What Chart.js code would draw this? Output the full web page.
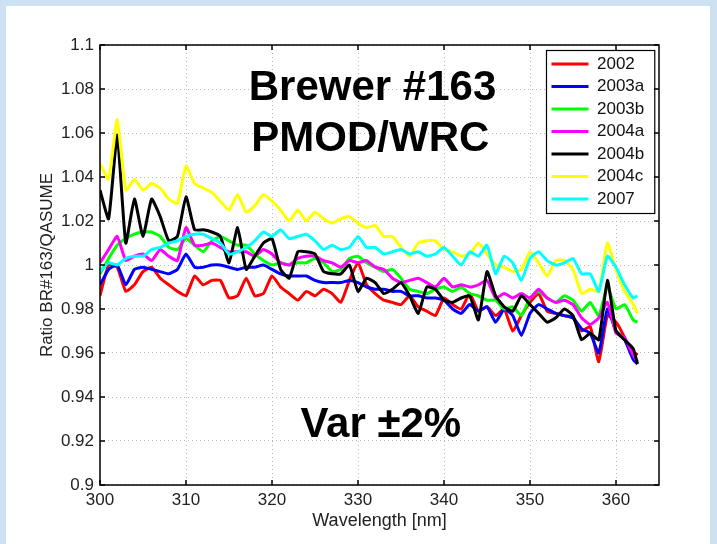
<!DOCTYPE html>
<html>
<head>
<meta charset="utf-8">
<script src="https://cdn.jsdelivr.net/npm/chart.js@4.4.0/dist/chart.umd.min.js"></script>
<style>
  html, body { margin: 0; padding: 0; }
  body { width: 717px; height: 544px; background: #cde1f5; position: relative; overflow: hidden; }
  #sheet { position: absolute; left: 6px; top: 6px; right: 7px; bottom: 0; background: #fff; }
  #brewerChart { position: absolute; left: 0; top: 0; }
</style>
</head>
<body>
<div id="sheet"></div>
<canvas id="brewerChart" width="717" height="544"></canvas>
<script>
// wavelength grid [nm]
const wavelengths = [300, 301, 302, 303, 304, 305, 306, 307, 308, 309,
  310, 311, 312, 313, 314, 315, 316, 317, 318, 319,
  320, 321, 322, 323, 324, 325, 326, 327, 328, 329,
  330, 331, 332, 333, 334, 335, 336, 337, 338, 339,
  340, 341, 342, 343, 344, 345, 346, 347, 348, 349,
  350, 351, 352, 353, 354, 355, 356, 357, 358, 359,
  360, 361, 362, 362.5];

// ratio BR#163 / QASUME per campaign
const ratio2002 = [0.986, 1.000, 0.999, 0.988, 0.991, 0.997, 0.999, 0.994, 0.991, 0.988,
  0.986, 0.995, 0.991, 0.993, 0.993, 0.985, 0.986, 0.994, 0.986, 0.987,
  0.995, 0.990, 0.987, 0.984, 0.988, 0.986, 0.989, 0.987, 0.983, 0.993,
  1.001, 0.991, 0.987, 0.984, 0.983, 0.982, 0.986, 0.981, 0.979, 0.977,
  0.985, 0.982, 0.980, 0.987, 0.979, 0.981, 0.977, 0.980, 0.970, 0.977,
  0.983, 0.987, 0.979, 0.978, 0.977, 0.976, 0.970, 0.972, 0.956, 0.977,
  0.974, 0.967, 0.958, 0.960];
const ratio2003a = [0.991, 0.998, 1.000, 0.991, 0.998, 0.999, 0.998, 0.997, 0.996, 0.998,
  1.005, 0.999, 0.999, 1.000, 1.000, 0.999, 0.998, 0.999, 0.999, 1.000,
  0.998, 0.996, 0.995, 0.995, 0.995, 0.993, 0.992, 0.992, 0.992, 0.993,
  0.992, 0.990, 0.989, 0.989, 0.988, 0.988, 0.986, 0.986, 0.985, 0.985,
  0.984, 0.980, 0.978, 0.982, 0.979, 0.981, 0.974, 0.980, 0.977, 0.968,
  0.978, 0.982, 0.980, 0.978, 0.977, 0.976, 0.971, 0.969, 0.960, 0.980,
  0.970, 0.966, 0.957, 0.955];
const ratio2003b = [0.996, 1.003, 1.009, 1.012, 1.014, 1.015, 1.015, 1.013, 1.008, 1.007,
  1.012, 1.009, 1.006, 1.011, 1.013, 1.011, 1.009, 1.009, 1.005, 1.002,
  1.000, 1.001, 1.000, 1.001, 1.001, 1.003, 1.001, 0.997, 0.998, 1.003,
  1.004, 1.001, 0.999, 0.997, 0.998, 0.994, 0.989, 0.988, 0.987, 0.989,
  0.990, 0.988, 0.990, 0.987, 0.986, 0.984, 0.984, 0.980, 0.981, 0.977,
  0.985, 0.988, 0.985, 0.983, 0.986, 0.984, 0.979, 0.983, 0.977, 0.990,
  0.980, 0.982, 0.975, 0.974];
const ratio2004a = [1.001, 1.007, 1.013, 1.002, 1.004, 1.005, 1.002, 1.007, 1.004, 1.002,
  1.017, 1.009, 1.009, 1.010, 1.008, 1.006, 1.006, 1.006, 1.004, 1.007,
  1.005, 1.001, 1.000, 1.003, 1.004, 1.004, 1.002, 1.001, 0.999, 1.002,
  1.001, 1.002, 0.999, 0.998, 0.994, 0.992, 0.993, 0.994, 0.992, 0.990,
  0.994, 0.990, 0.991, 0.990, 0.991, 0.993, 0.985, 0.987, 0.985, 0.987,
  0.985, 0.989, 0.985, 0.983, 0.984, 0.982, 0.976, 0.973, 0.976, 0.983,
  0.969, 0.967, 0.959, 0.956];
const ratio2004b = [1.034, 1.021, 1.059, 1.010, 1.030, 1.013, 1.030, 1.022, 1.011, 1.013,
  1.031, 1.016, 1.016, 1.015, 1.013, 1.001, 1.017, 0.998, 1.004, 1.010,
  1.012, 0.998, 0.994, 1.006, 1.006, 1.005, 0.997, 0.996, 0.996, 1.000,
  0.988, 0.994, 0.992, 0.987, 0.989, 0.992, 0.986, 0.978, 0.990, 0.989,
  0.984, 0.983, 0.985, 0.986, 0.975, 0.997, 0.986, 0.981, 0.979, 0.986,
  0.982, 0.978, 0.974, 0.976, 0.980, 0.977, 0.966, 0.969, 0.966, 0.993,
  0.970, 0.966, 0.962, 0.955];
const ratio2004c = [1.046, 1.039, 1.066, 1.034, 1.039, 1.034, 1.037, 1.035, 1.030, 1.028,
  1.045, 1.037, 1.035, 1.033, 1.029, 1.025, 1.032, 1.024, 1.027, 1.032,
  1.029, 1.025, 1.020, 1.025, 1.020, 1.024, 1.021, 1.019, 1.021, 1.022,
  1.019, 1.017, 1.018, 1.013, 1.013, 1.008, 1.004, 1.010, 1.011, 1.011,
  1.007, 1.006, 1.004, 1.005, 1.010, 1.005, 1.000, 0.999, 0.997, 0.998,
  1.006, 1.001, 0.995, 1.002, 1.002, 0.998, 0.987, 0.989, 0.988, 1.010,
  0.998, 0.988, 0.982, 0.978];
const ratio2007 = [0.997, 1.001, 1.000, 1.003, 1.004, 1.004, 1.007, 1.008, 1.010, 1.011,
  1.013, 1.014, 1.014, 1.012, 1.010, 1.005, 1.006, 1.008, 1.011, 1.015,
  1.013, 1.016, 1.012, 1.013, 1.014, 1.011, 1.007, 1.009, 1.007, 1.008,
  1.013, 1.008, 1.008, 1.005, 1.006, 1.007, 1.005, 1.006, 1.004, 1.005,
  1.008, 1.004, 1.000, 1.006, 1.004, 1.009, 0.996, 1.004, 1.001, 0.993,
  1.003, 1.006, 1.002, 1.000, 1.001, 1.003, 0.996, 0.996, 0.988, 1.004,
  0.999, 0.991, 0.985, 0.986];

const campaigns = ["2002", "2003a", "2003b", "2004a", "2004b", "2004c", "2007"];
const series = [ratio2002, ratio2003a, ratio2003b, ratio2004a, ratio2004b, ratio2004c, ratio2007];
const lineColors = ["#ff0000", "#0000ff", "#00ff00", "#ff00ff", "#000000", "#ffff00", "#00ffff"];

// big labels inside the axes (anchored in data units, like MATLAB text())
const notes = [
  { text: "Brewer #163", x: 317.3, y: 1.075 },
  { text: "PMOD/WRC", x: 317.6, y: 1.052 },
  { text: "Var \u00b12%", x: 323.3, y: 0.922 }
];

const fontFamily = '"Liberation Sans", Arial, Helvetica, sans-serif';

// MATLAB look: box, inward ticks, legend box in the NE corner, text labels
const matlabAxes = {
  id: "matlabAxes",
  afterInit(chart) {
    const legend = chart.legend;
    legend._layers = () => [{
      z: 1,
      draw: () => {
        const ctx = chart.ctx;
        const pad = legend.options.labels.padding;
        const fs = legend.options.labels.font.size;
        const h = pad + legend.legendItems.length * (fs + pad);
        ctx.save();
        ctx.fillStyle = "#fff";
        ctx.fillRect(legend.left, legend.top, legend.width, h);
        ctx.strokeStyle = "#000";
        ctx.lineWidth = 1.2;
        ctx.strokeRect(legend.left + 0.5, legend.top + 0.5, legend.width, h);
        ctx.restore();
        legend.draw();
      }
    }];
  },
  afterLayout(chart) {
    const lg = chart.legend;
    const area = chart.chartArea;
    lg.left = Math.round(area.right - 5 - lg.width);
    lg.top = area.top + 5;
    lg.right = lg.left + lg.width;
    lg.bottom = lg.top + lg.height;
  },
  afterDraw(chart) {
    const { ctx, chartArea: a, scales: { x, y } } = chart;
    ctx.save();
    ctx.strokeStyle = "#000";
    ctx.lineWidth = 1.5;
    ctx.beginPath();
    x.ticks.forEach(t => {
      const px = x.getPixelForValue(t.value);
      ctx.moveTo(px, a.bottom); ctx.lineTo(px, a.bottom - 5);
      ctx.moveTo(px, a.top); ctx.lineTo(px, a.top + 5);
    });
    y.ticks.forEach(t => {
      const py = y.getPixelForValue(t.value);
      ctx.moveTo(a.left, py); ctx.lineTo(a.left + 5, py);
      ctx.moveTo(a.right, py); ctx.lineTo(a.right - 5, py);
    });
    ctx.stroke();
    ctx.strokeRect(a.left, a.top, a.right - a.left, a.bottom - a.top);

    ctx.fillStyle = "#000";
    ctx.font = "bold 42px " + fontFamily;
    ctx.textAlign = "left";
    ctx.textBaseline = "alphabetic";
    notes.forEach(n => ctx.fillText(n.text, x.getPixelForValue(n.x), y.getPixelForValue(n.y)));
    ctx.restore();
  }
};

const ctx = document.getElementById("brewerChart").getContext("2d");
const brewerChart = new Chart(ctx, {
  type: "line",
  data: {
    datasets: campaigns.map((name, i) => ({
      label: name,
      data: wavelengths.map((w, k) => ({ x: w, y: series[i][k] })),
      borderColor: lineColors[i],
      backgroundColor: lineColors[i],
      borderWidth: 3,
      pointRadius: 0,
      tension: 0.15,
      fill: false,
      order: campaigns.length - i
    }))
  },
  options: {
    responsive: false,
    animation: false,
    devicePixelRatio: 1,
    layout: { padding: { left: 33, top: 45, right: 58, bottom: 8 } },
    plugins: {
      tooltip: { enabled: false },
      legend: {
        position: "chartArea",
        align: "start",
        labels: {
          usePointStyle: true,
          pointStyle: "line",
          pointStyleWidth: 37,
          padding: 5.5,
          color: "#111",
          font: { family: fontFamily, size: 17 },
          sort: (a, b) => a.datasetIndex - b.datasetIndex
        }
      }
    },
    scales: {
      x: {
        type: "linear",
        min: 300,
        max: 365,
        afterFit: s => { s.height = 51; },
        ticks: {
          stepSize: 10,
          includeBounds: false,
          padding: 5,
          autoSkip: false,
          color: "#222",
          maxRotation: 0,
          font: { family: fontFamily, size: 17 }
        },
        grid: { color: "#b8b8b8", lineWidth: 1, drawTicks: false },
        border: { display: false, dash: [1, 3] },
        title: {
          display: true,
          text: "Wavelength [nm]",
          color: "#222",
          font: { family: fontFamily, size: 18 }
        }
      },
      y: {
        min: 0.9,
        max: 1.1,
        afterFit: s => { s.width = 67; },
        ticks: {
          stepSize: 0.02,
          padding: 6,
          autoSkip: false,
          color: "#222",
          font: { family: fontFamily, size: 17 },
          callback: v => String(+v.toFixed(2))
        },
        grid: { color: "#b8b8b8", lineWidth: 1, drawTicks: false },
        border: { display: false, dash: [1, 3] },
        title: {
          display: true,
          text: "Ratio BR#163/QASUME",
          color: "#222",
          font: { family: fontFamily, size: 17 }
        }
      }
    }
  },
  plugins: [matlabAxes]
});
</script>
</body>
</html>
